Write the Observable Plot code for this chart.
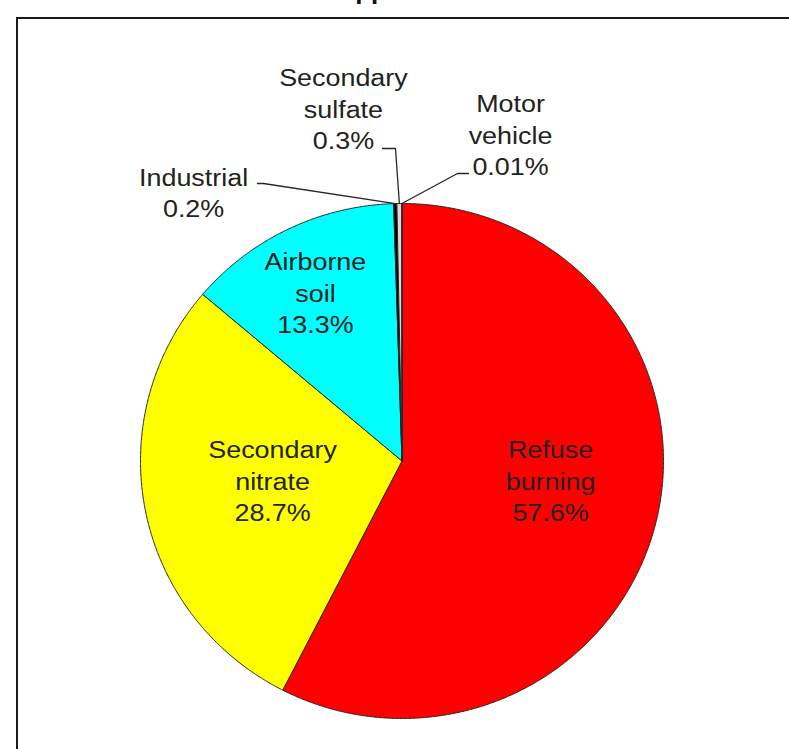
<!DOCTYPE html>
<html><head><meta charset="utf-8">
<script src="https://cdn.jsdelivr.net/npm/d3@7"></script>
<script src="https://cdn.jsdelivr.net/npm/@observablehq/plot@0.6"></script>
<style>
html,body{margin:0;padding:0;background:#fff;overflow:hidden;width:789px;height:749px;position:relative;}
#title{position:absolute;left:242px;top:-25px;font:bold 26px "Liberation Sans",Arial,sans-serif;line-height:30px;white-space:nowrap;color:#111;}
#chart{position:absolute;left:0;top:0;}
#frame{position:absolute;left:16px;top:17px;width:900px;height:900px;border-left:2px solid #1a1a1a;border-top:2px solid #1a1a1a;}
</style></head><body>
<div id="title">Source Apportionment</div>
<div id="chart"></div>
<div id="frame"></div>
<script>
// ---- data ----
const categories = ["Refuse burning", "Secondary nitrate", "Airborne soil", "Industrial", "Secondary sulfate", "Motor vehicle"];
const labelNames = ["Refuse\nburning", "Secondary\nnitrate", "Airborne\nsoil", "Industrial", "Secondary\nsulfate", "Motor\nvehicle"];
const shares = [57.6, 28.7, 13.3, 0.2, 0.3, 0.01];
const shareLabels = ["57.6%", "28.7%", "13.3%", "0.2%", "0.3%", "0.01%"];
const colors = ["#ff0000", "#ffff00", "#00ffff", "#000000", "#d9d9d9", "#ffffff"];

// ---- label layout (pie-radius units, y downward) ----
const labelPos = [[0.568, 0.072], [-0.495, 0.072], [-0.331, -0.658], [-0.797, -1.047], [-0.224, -1.373], [0.415, -1.272]];
const leaderElbows = {3: [[-0.5526, -1.0777], [-0.5296, -1.0777]], 4: [[-0.0746, -1.2136], [-0.0249, -1.2136]], 5: [[0.2543, -1.1165], [0.2122, -1.1165]]};

const W = 789, H = 749, cx = 401.5, cy = 460.5, rx = 261.5, ry = 257.5;

const arcs = d3.pie().sort(null).value(d => d)(shares);
const slicePts = [];
arcs.forEach((a, i) => {
  const name = categories[i];
  slicePts.push({name, x: 0, y: 0});
  const n = Math.max(2, Math.ceil((a.endAngle - a.startAngle) / 0.005));
  for (let k = 0; k <= n; k++) {
    const t = a.startAngle + (a.endAngle - a.startAngle) * k / n;
    slicePts.push({name, x: Math.sin(t), y: -Math.cos(t)});
  }
  slicePts.push({name, x: 0, y: 0});
});

const leaderPts = [];
for (const key of Object.keys(leaderElbows)) {
  const i = +key, a = arcs[i], m = (a.startAngle + a.endAngle) / 2;
  for (const [x, y] of leaderElbows[i]) leaderPts.push({name: categories[i], x, y});
  leaderPts.push({name: categories[i], x: Math.sin(m), y: -Math.cos(m)});
}

const labels = categories.map((c, i) => ({text: labelNames[i] + "\n" + shareLabels[i], x: labelPos[i][0], y: labelPos[i][1]}));

const svg = Plot.plot({
  width: W, height: H, margin: 0,
  x: {domain: [-cx / rx, (W - cx) / rx], range: [0, W], axis: null},
  y: {domain: [-cy / ry, (H - cy) / ry], range: [0, H], axis: null},
  color: {domain: categories, range: colors},
  style: {fontFamily: '"Liberation Sans", Arial, sans-serif', background: "transparent"},
  marks: [
    Plot.line(slicePts, {x: "x", y: "y", z: "name", fill: "name", stroke: "#262626", strokeWidth: 1, strokeLinejoin: "round"}),
    Plot.line(leaderPts, {x: "x", y: "y", z: "name", stroke: "#262626", strokeWidth: 1.3}),
    Plot.text(labels, {x: "x", y: "y", text: "text", fontSize: 23, lineHeight: 1.38, fill: "#222", textAnchor: "middle", lineAnchor: "middle"})
  ]
});
for (const t of svg.querySelectorAll('g[aria-label="text"] text')) {
  const tr = t.getAttribute("transform") || "";
  t.setAttribute("transform", tr + " scale(1.17,1)");
}
document.getElementById("chart").append(svg);
</script>
</body></html>
